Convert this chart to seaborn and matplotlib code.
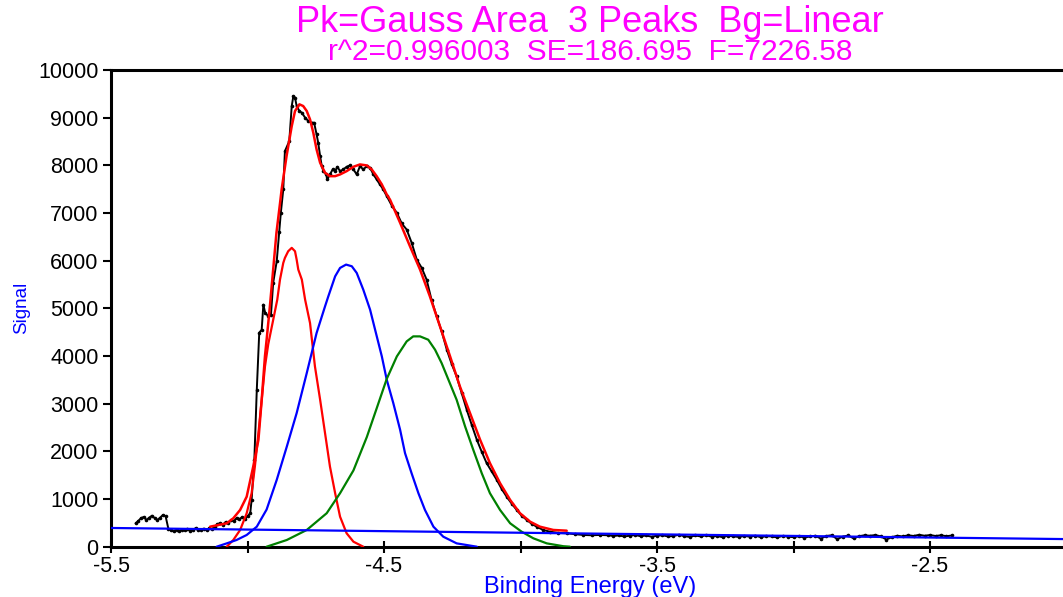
import matplotlib
matplotlib.use("Agg")
import matplotlib.pyplot as plt
from matplotlib.ticker import FixedLocator
import seaborn as sns
import pandas as pd

sns.set_style("white")
plt.rcParams['font.family'] = ['Liberation Sans', 'DejaVu Sans']

# ---------------- data ----------------
# measured signal (black)
data_x = [-5.41, -5.40, -5.39, -5.38, -5.37, -5.36, -5.35, -5.34, -5.33, -5.32, -5.31, -5.30,
          -5.29, -5.28, -5.27, -5.26, -5.25, -5.24, -5.23, -5.22, -5.21, -5.20, -5.19, -5.18,
          -5.17, -5.16, -5.15, -5.14, -5.13,
          -5.12, -5.11, -5.10, -5.09, -5.08, -5.07, -5.06, -5.05, -5.04, -5.03, -5.02, -5.01,
          -5.00, -4.99, -4.985, -4.975, -4.966, -4.957, -4.948, -4.942, -4.935, -4.926, -4.914,
          -4.906, -4.893, -4.884, -4.878, -4.869, -4.863, -4.847, -4.838, -4.832, -4.826,
          -4.820, -4.810, -4.801, -4.789, -4.777, -4.765, -4.756, -4.747, -4.741, -4.734,
          -4.728, -4.722, -4.712, -4.708, -4.698, -4.688, -4.679, -4.671, -4.661, -4.649,
          -4.637, -4.625, -4.612, -4.600, -4.588, -4.576, -4.563, -4.551, -4.539, -4.527,
          -4.515, -4.503, -4.490, -4.471, -4.453, -4.435, -4.417, -4.399, -4.380, -4.362,
          -4.344, -4.326, -4.307, -4.289, -4.270, -4.252, -4.234, -4.216, -4.197, -4.179,
          -4.160, -4.142, -4.124, -4.106, -4.087, -4.069, -4.051, -4.032, -4.014, -3.996,
          -3.977, -3.959, -3.941, -3.917, -3.892, -3.861, -3.831, -3.80, -3.770, -3.74,
          -3.709,
          -3.68, -3.66, -3.64, -3.62, -3.60, -3.58, -3.56, -3.54, -3.52, -3.50, -3.48, -3.46,
          -3.44, -3.42, -3.40, -3.38, -3.36, -3.34, -3.32, -3.30, -3.28, -3.26, -3.24, -3.22,
          -3.20, -3.18, -3.16, -3.14, -3.12, -3.10, -3.08, -3.06, -3.04, -3.02, -3.00, -2.98,
          -2.96, -2.94, -2.92, -2.90, -2.88, -2.86, -2.84, -2.82, -2.80, -2.78, -2.76, -2.74,
          -2.72, -2.70, -2.68, -2.66, -2.64, -2.62, -2.60, -2.58, -2.56, -2.54, -2.52, -2.50,
          -2.48, -2.46, -2.44, -2.42]
data_y = [490, 540, 600, 625, 560, 610, 650, 600, 560, 610, 665, 640,
          380, 340, 320, 355, 330, 360, 340, 375, 330, 350, 390, 345,
          360, 380, 350, 390, 370,
          420, 470, 500, 460, 520, 490, 560, 540, 600, 575, 620, 580,
          640, 700, 981, 1821, 3292, 4490, 4552, 5078, 4900, 4850, 4870,
          5534, 5987, 6600, 7000, 7494, 8298, 8508, 9244, 9454, 9420,
          9244, 9139, 9104, 9000, 8929, 8894, 8894, 8649, 8474, 8193,
          7983, 7878, 7809, 7704, 7809, 7914, 7878, 7970, 7878, 7914,
          7970, 7998, 7914, 7809, 7983, 7914, 7983, 7949, 7809, 7704,
          7599, 7494, 7353, 7150, 7004, 6780, 6653, 6380, 6023, 5850,
          5603, 5180, 4832, 4520, 4132, 3830, 3571, 3230, 2872, 2560,
          2242, 1990, 1752, 1580, 1401, 1210, 1050, 900, 771, 650,
          561, 480, 420, 350, 315, 290, 282, 262, 246, 240,
          246,
          240, 225, 235, 215, 230, 245, 220, 235, 210, 230, 240, 215,
          225, 250, 220, 205, 235, 215, 240, 210, 225, 200, 230, 215,
          205, 225, 210, 230, 200, 220, 215, 195, 225, 210, 200, 220,
          190, 215, 230, 170, 225, 240, 160, 210, 235, 175, 220, 240,
          230, 245, 215, 150, 200, 230, 215, 240, 225, 250, 230, 245,
          225, 240, 220, 235]

# total fit (red)
fit_x = [-5.137, -5.076, -5.052, -5.027, -5.003, -4.979, -4.960, -4.948, -4.936, -4.930,
         -4.918, -4.906, -4.894, -4.881, -4.875, -4.857, -4.838, -4.826, -4.810, -4.796,
         -4.783, -4.771, -4.759, -4.747, -4.734, -4.716, -4.698, -4.679, -4.661, -4.637,
         -4.612, -4.588, -4.563, -4.545, -4.527, -4.508, -4.490, -4.478, -4.441, -4.405,
         -4.368, -4.332, -4.295, -4.258, -4.222, -4.185, -4.148, -4.112, -4.075, -4.038,
         -4.002, -3.965, -3.929, -3.880, -3.831]
fit_y = [420, 491, 596, 771, 1050, 1681, 2242, 3082, 4000, 4342,
         5042, 5813, 6584, 7200, 7494, 8193, 8823, 9139, 9280, 9244,
         9139, 8964, 8684, 8334, 8053, 7844, 7773, 7773, 7809, 7878,
         7970, 8019, 7998, 7914, 7773, 7599, 7389, 7280, 6794, 6303,
         5813, 5252, 4622, 3992, 3361, 2802, 2242, 1752, 1332, 981,
         702, 525, 420, 351, 336]

# peak 1 (red)
pk1_x = [-5.076, -5.052, -5.027, -5.003, -4.985, -4.973, -4.960, -4.948, -4.936, -4.924,
         -4.908, -4.891, -4.881, -4.869, -4.863, -4.851, -4.838, -4.826, -4.820, -4.814,
         -4.801, -4.789, -4.771, -4.753, -4.734, -4.716, -4.698, -4.679, -4.661, -4.637,
         -4.612, -4.576]
pk1_y = [0, 141, 351, 702, 1122, 1681, 2382, 3082, 3782, 4250,
         4700, 5182, 5603, 5953, 6058, 6198, 6269, 6198, 6023, 5813,
         5603, 5182, 4692, 3782, 3082, 2382, 1681, 1122, 630, 282,
         105, 0]

# peak 2 (blue)
pk2_x = [-5.113, -5.076, -5.040, -5.003, -4.966, -4.930, -4.893, -4.856, -4.820, -4.783,
         -4.747, -4.716, -4.704, -4.679, -4.661, -4.639, -4.618, -4.600, -4.576, -4.551,
         -4.533, -4.508, -4.490, -4.466, -4.441, -4.423, -4.399, -4.374, -4.350, -4.319,
         -4.283, -4.234, -4.160]
pk2_y = [0, 70, 141, 246, 420, 780, 1401, 2101, 2802, 3642,
         4482, 5042, 5252, 5672, 5848, 5918, 5883, 5743, 5393, 4972,
         4560, 3992, 3502, 3012, 2452, 1962, 1541, 1122, 771, 420,
         210, 70, 0]

# peak 3 (green)
pk3_x = [-4.930, -4.856, -4.783, -4.710, -4.661, -4.612, -4.563, -4.527, -4.490, -4.453,
         -4.417, -4.393, -4.368, -4.338, -4.313, -4.289, -4.264, -4.234, -4.203, -4.173,
         -4.142, -4.112, -4.075, -4.038, -3.996, -3.953, -3.904, -3.843, -3.819]
pk3_y = [0, 141, 351, 702, 1122, 1600, 2300, 2900, 3520, 3992,
         4307, 4412, 4412, 4342, 4132, 3852, 3502, 3082, 2522, 2031,
         1541, 1122, 771, 491, 315, 176, 70, 10, 0]

# linear background (blue)
bg_x = [-5.91, -2.01]
bg_y = [420, 160]

title1 = "Pk=Gauss Area  3 Peaks  Bg=Linear"
title2 = "r^2=0.996003  SE=186.695  F=7226.58"
x_ticks = [-5.5, -4.5, -3.5, -2.5]
x_minor = [-5.0, -4.0, -3.0]
y_ticks = list(range(0, 10001, 1000))

# ---------------- figure ----------------
fig = plt.figure(figsize=(10.63, 5.97), dpi=100)
ax = fig.add_axes([111 / 1063, 1 - 546.7 / 597, 1 - 111 / 1063, (546.7 - 70) / 597])

df_data = pd.DataFrame({"x": data_x, "y": data_y})
sns.lineplot(data=df_data, x="x", y="y", ax=ax, color="black", lw=1.4, sort=False,
             estimator=None, marker="o", markersize=2.6, markeredgewidth=0, zorder=2)
for xs, ys, c in [(pk1_x, pk1_y, "#ff0000"), (pk2_x, pk2_y, "#0000ff"), (pk3_x, pk3_y, "#008000")]:
    sns.lineplot(x=xs, y=ys, ax=ax, color=c, lw=1.6, sort=False, estimator=None, zorder=3)
sns.lineplot(x=fit_x, y=fit_y, ax=ax, color="#ff0000", lw=1.8, sort=False, estimator=None, zorder=4)
sns.lineplot(x=bg_x, y=bg_y, ax=ax, color="#0000ff", lw=1.6, sort=False, estimator=None, zorder=5)

ax.set_xlim(-5.5, -2.013)
ax.set_ylim(0, 10000)
ax.xaxis.set_major_locator(FixedLocator(x_ticks))
ax.xaxis.set_minor_locator(FixedLocator(x_minor))
ax.yaxis.set_major_locator(FixedLocator(y_ticks))
ax.set_xticklabels([str(v) for v in x_ticks])
ax.set_yticklabels([str(v) for v in y_ticks])
ax.tick_params(axis="x", which="both", direction="inout", length=8, width=1.5, pad=2.5,
               labelsize=15.5, colors="black", bottom=True)
ax.tick_params(axis="y", which="major", direction="out", length=6, width=1.5, pad=3,
               labelsize=15.5, colors="black", left=True)
for s in ["left", "bottom", "top"]:
    ax.spines[s].set_visible(True)
    ax.spines[s].set_color("black")
    ax.spines[s].set_linewidth(2.2)
ax.spines["right"].set_visible(False)
ax.set_xlabel("")
ax.set_ylabel("")
ax.grid(False)

fig.text(590 / 1063, 1 - 23 / 597, title1, color="#ff00ff", fontsize=26, ha="center", va="center")
fig.text(590 / 1063, 1 - 52 / 597, title2, color="#ff00ff", fontsize=21.5, ha="center", va="center")
fig.text(590 / 1063, 1 - 587 / 597, "Binding Energy (eV)", color="#0000ff", fontsize=17,
         ha="center", va="center")
fig.text(22 / 1063, 1 - 308 / 597, "Signal", color="#0000ff", fontsize=13.5, rotation=90,
         ha="center", va="center")

fig.savefig("out.png", dpi=100, facecolor="white")
